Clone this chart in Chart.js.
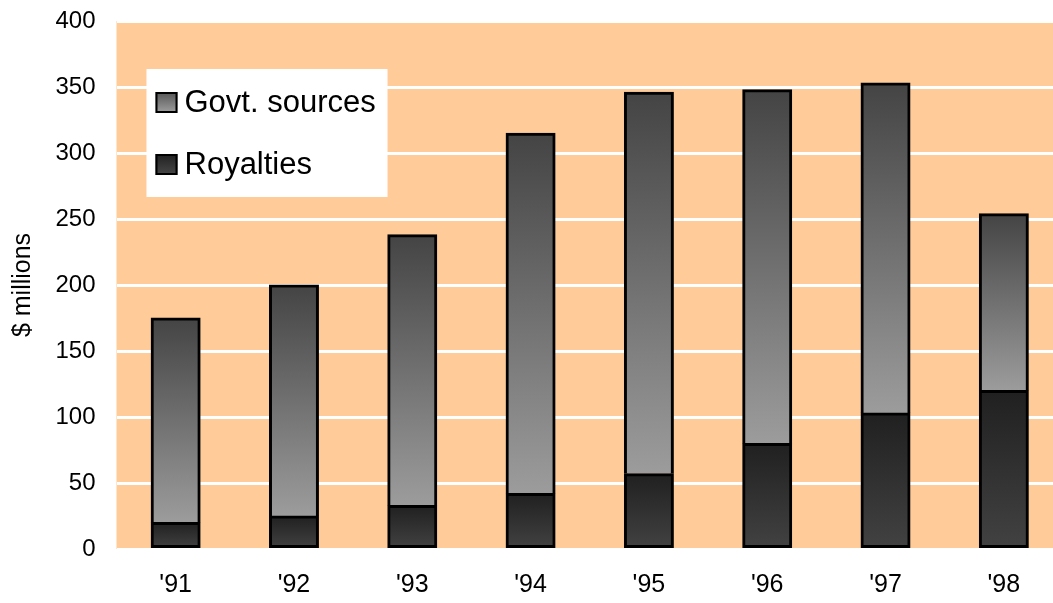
<!DOCTYPE html>
<html>
<head>
<meta charset="utf-8">
<title>Revenue sources, '91–'98</title>
<script src="https://cdn.jsdelivr.net/npm/chart.js@4.4.1/dist/chart.umd.min.js"></script>
<style>
  html, body { margin: 0; padding: 0; background: #ffffff; overflow: hidden; }
  #wrap { position: relative; width: 1063px; height: 603px; }
</style>
</head>
<body>
<div id="wrap"><canvas id="chart" width="1063" height="603"></canvas></div>
<script>
// Fiscal years and revenue by source, $ millions
const years = ["'91", "'92", "'93", "'94", "'95", "'96", "'97", "'98"];
const royalties = [20, 25, 33, 42, 57, 80, 103, 120];
const govtSources = [155, 175, 205, 273, 289, 268, 250, 134];
const yTicks = [0, 50, 100, 150, 200, 250, 300, 350, 400];

const FONT = '"Liberation Sans", Arial, Helvetica, sans-serif';
const PLOT_BG = '#ffcc99';

// Vertical gradient spanning one bar segment, from its top value to its base value
function segmentGradient(ctx, baseArr, topArr, topColor, bottomColor, fallback) {
  const chart = ctx.chart;
  if (!chart.chartArea || ctx.type !== 'data') return fallback;
  const y = chart.scales.y;
  const i = ctx.dataIndex;
  const base = baseArr ? baseArr[i] : 0;
  const top = base + topArr[i];
  const y0 = y.getPixelForValue(top);
  const y1 = y.getPixelForValue(base);
  const g = chart.ctx.createLinearGradient(0, y0, 0, y1);
  g.addColorStop(0, topColor);
  g.addColorStop(1, bottomColor);
  return g;
}

// Orange plot background
const plotBackground = {
  id: 'plotBackground',
  beforeDraw(chart) {
    const { ctx, chartArea: a } = chart;
    ctx.save();
    ctx.fillStyle = PLOT_BG;
    ctx.fillRect(a.left, a.top, a.right - a.left, a.bottom - a.top);
    ctx.restore();
  }
};

// Boxed legend inside the plot, top series listed first
const boxedLegend = {
  id: 'boxedLegend',
  afterDraw(chart) {
    const { ctx, chartArea: a } = chart;
    const x = a.left + 30, y = a.top + 48, w = 241, h = 128;
    ctx.save();
    ctx.fillStyle = '#ffffff';
    ctx.fillRect(x, y, w, h);
    const entries = [
      { label: chart.data.datasets[1].label, c0: '#555555', c1: '#a0a0a0', cy: y + 33 },
      { label: chart.data.datasets[0].label, c0: '#202020', c1: '#484848', cy: y + 95 }
    ];
    ctx.font = '31px ' + FONT;
    ctx.textBaseline = 'middle';
    ctx.textAlign = 'left';
    entries.forEach(e => {
      const bx = x + 9, by = e.cy - 10, bw = 22, bh = 21;
      const g = ctx.createLinearGradient(0, by, 0, by + bh);
      g.addColorStop(0, e.c0);
      g.addColorStop(1, e.c1);
      ctx.fillStyle = g;
      ctx.fillRect(bx, by, bw, bh);
      ctx.lineWidth = 2;
      ctx.strokeStyle = '#000000';
      ctx.strokeRect(bx + 1, by + 1, bw - 2, bh - 2);
      ctx.fillStyle = '#000000';
      ctx.fillText(e.label, bx + bw + 7, e.cy + 1);
    });
    ctx.restore();
  }
};

new Chart(document.getElementById('chart'), {
  type: 'bar',
  data: {
    labels: years,
    datasets: [
      {
        label: 'Royalties',
        data: royalties,
        backgroundColor: ctx => segmentGradient(ctx, null, royalties, '#202020', '#424242', '#333333'),
        borderColor: '#000000',
        borderWidth: 3,
        borderSkipped: false,
        // slight overdraw so the seam with the segment above stays solid
        inflateAmount: 0.5,
        categoryPercentage: 1,
        barPercentage: 0.414
      },
      {
        label: 'Govt. sources',
        data: govtSources,
        backgroundColor: ctx => segmentGradient(ctx, royalties, govtSources, '#444444', '#9c9c9c', '#777777'),
        borderColor: '#000000',
        borderWidth: 3,
        borderSkipped: 'start',
        inflateAmount: 0.5,
        categoryPercentage: 1,
        barPercentage: 0.414
      }
    ]
  },
  options: {
    responsive: false,
    animation: false,
    devicePixelRatio: 1,
    layout: { padding: { top: 21, right: 0, bottom: 0, left: 0 } },
    plugins: {
      legend: { display: false },
      tooltip: { enabled: false },
      title: { display: false }
    },
    scales: {
      x: {
        stacked: true,
        offset: true,
        grid: { display: false, drawTicks: false },
        border: { display: false },
        ticks: {
          color: '#000000',
          font: { family: FONT, size: 25 },
          padding: 21,
          maxRotation: 0
        },
        afterFit(scale) { scale.height = 54; }
      },
      y: {
        stacked: true,
        min: 0,
        max: 400,
        afterBuildTicks(scale) { scale.ticks = yTicks.map(v => ({ value: v })); },
        grid: { color: '#ffffff', lineWidth: 3, drawTicks: false },
        border: { display: false },
        ticks: {
          color: '#000000',
          font: { family: FONT, size: 24 },
          padding: 21
        },
        title: {
          display: true,
          text: '$ millions',
          color: '#000000',
          font: { family: FONT, size: 25 },
          padding: { top: 8, bottom: 0 }
        },
        afterFit(scale) {
          scale.width = 116.5;
          // tick labels overhang into the top margin; no extra inset needed
          scale.paddingTop = 0;
          scale.paddingBottom = 0;
        }
      }
    }
  },
  plugins: [plotBackground, boxedLegend]
});
</script>
</body>
</html>
